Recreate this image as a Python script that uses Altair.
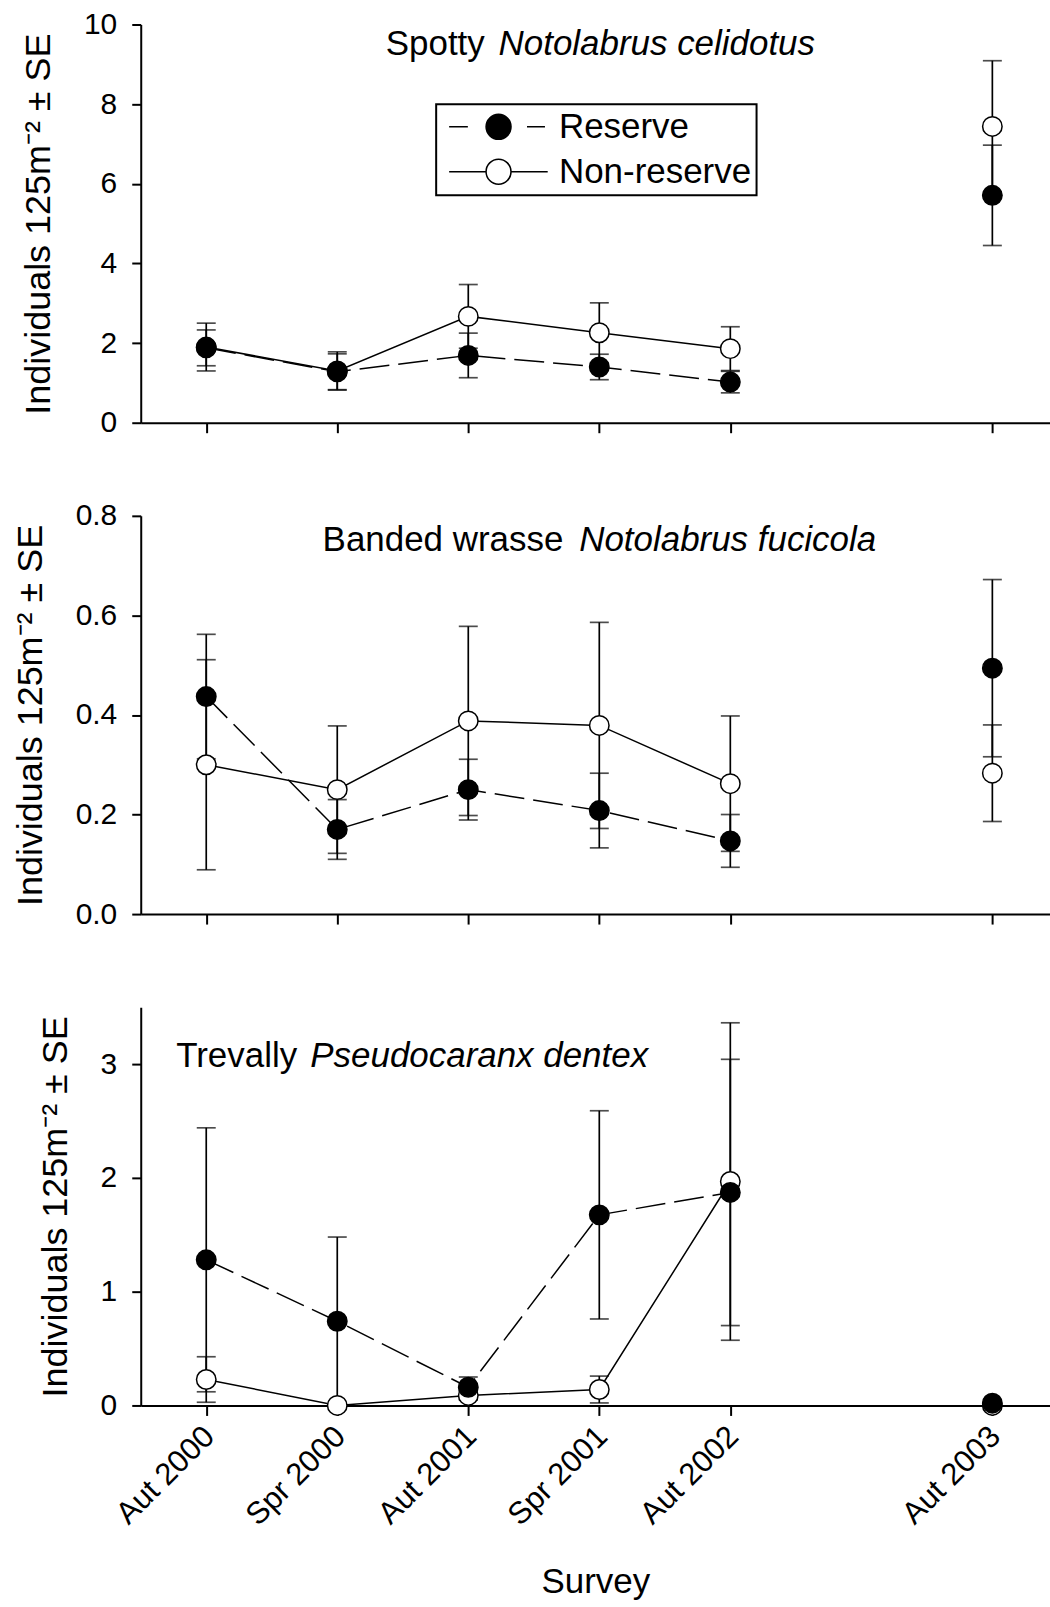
import altair as alt
import pandas as pd

# Survey occasions and their positions on the x axis (gap before Aut 2003)
surveys = ["Aut 2000", "Spr 2000", "Aut 2001", "Spr 2001", "Aut 2002", "Aut 2003"]
survey_pos = [0, 1, 2, 3, 4, 6]
series_names = ["Reserve", "Non-reserve"]

# Spotty Notolabrus celidotus
spotty_res_mean = [1.88, 1.28, 1.69, 1.40, 1.02, 5.71]
spotty_res_se = [0.45, 0.45, 0.56, 0.32, 0.27, 1.26]
spotty_non_mean = [1.90, 1.30, 2.67, 2.26, 1.86, 7.44]
spotty_non_se = [0.60, 0.48, 0.80, 0.75, 0.55, 1.65]

# Banded wrasse Notolabrus fucicola
banded_res_mean = [0.437, 0.170, 0.250, 0.208, 0.147, 0.494]
banded_res_se = [0.125, 0.060, 0.061, 0.075, 0.053, 0.178]
banded_non_mean = [0.300, 0.250, 0.388, 0.379, 0.262, 0.283]
banded_non_se = [0.211, 0.128, 0.190, 0.207, 0.136, 0.097]

# Trevally Pseudocaranx dentex
trev_res_mean = [1.28, 0.74, 0.16, 1.675, 1.872, 0.02]
trev_res_se = [1.16, 0.74, 0.09, 0.915, 1.17, 0.0]
trev_non_mean = [0.228, 0.0, 0.088, 0.140, 1.968, 0.0]
trev_non_se = [0.20, 0.0, 0.04, 0.118, 1.395, 0.0]

y_title = "Individuals 125m\u207b\u00b2 \u00b1 SE"
FONT = "Liberation Sans"
DASH = [30, 9]

# legend symbols: circle with a dashed / solid line through it
CIRCLE = "M-1,0A1,1,0,1,1,1,0A1,1,0,1,1,-1,0Z"
PATH_RES = "M-3.96,0L-2.46,0M2.28,0L3.72,0" + CIRCLE
PATH_NON = "M-3.96,0L-1,0M1,0L3.94,0" + CIRCLE


def frame(res_mean, res_se, non_mean, non_se):
    rows = []
    for name, means, ses in [("Non-reserve", non_mean, non_se),
                             ("Reserve", res_mean, res_se)]:
        for pos, lab, m, s in zip(survey_pos, surveys, means, ses):
            rows.append({"pos": pos, "survey": lab, "series": name, "mean": m,
                         "lo": m - s, "hi": m + s})
    return pd.DataFrame(rows)


label_expr = ("['Aut 2000','Spr 2000','Aut 2001','Spr 2001','Aut 2002','','Aut 2003']"
              "[datum.value]")


def panel(df, y_domain, y_ticks, y_fmt, normal, italic, title_xy, italic_x,
          show_x_labels=False, show_legend=False):
    x_axis = alt.Axis(values=survey_pos, labelExpr=label_expr, labels=show_x_labels,
                      title="Survey" if show_x_labels else None, grid=False,
                      tickSize=10, labelAngle=-45, labelAlign="right",
                      labelBaseline="middle", labelPadding=16, labelOffset=3,
                      labelFontSize=31, titleFontSize=35, titlePadding=34)
    y_axis = alt.Axis(values=y_ticks, format=y_fmt, title=y_title, grid=False,
                      tickSize=9, labelPadding=15, titlePadding=26)
    x_enc = alt.X("pos:Q", scale=alt.Scale(domain=[-0.5, 6.44], nice=False, zero=False),
                  axis=x_axis)
    y_scale = alt.Scale(domain=y_domain, nice=False, zero=True)
    y_mean = alt.Y("mean:Q", scale=y_scale, axis=y_axis)

    base = alt.Chart(df)
    res = base.transform_filter("datum.series == 'Reserve'")
    non = base.transform_filter("datum.series == 'Non-reserve'")

    bars = base.mark_rule(color="black", strokeWidth=1.7).encode(
        x=x_enc, y=alt.Y("lo:Q", scale=y_scale, axis=y_axis), y2="hi:Q")
    caps_hi = base.mark_tick(color="black", orient="horizontal", size=19,
                             thickness=1.7).encode(
        x=x_enc, y=alt.Y("hi:Q", scale=y_scale, axis=y_axis))
    caps_lo = base.mark_tick(color="black", orient="horizontal", size=19,
                             thickness=1.7).encode(
        x=x_enc, y=alt.Y("lo:Q", scale=y_scale, axis=y_axis))

    # connecting lines stop at Aut 2002
    line_non = non.transform_filter("datum.pos <= 4").mark_line(
        color="black", strokeWidth=1.5).encode(x=x_enc, y=y_mean)
    line_res = res.transform_filter("datum.pos <= 4").mark_line(
        color="black", strokeWidth=1.5, strokeDash=DASH).encode(x=x_enc, y=y_mean)

    pt_non = non.mark_point(filled=True, size=380, fill="white", stroke="black",
                            strokeWidth=1.5, opacity=1).encode(x=x_enc, y=y_mean)
    pt_res = res.mark_point(filled=True, size=380, fill="black", stroke="black",
                            strokeWidth=1.5, opacity=1).encode(x=x_enc, y=y_mean)

    tx, ty = title_xy
    t_norm = alt.Chart(pd.DataFrame({"t": [normal]})).mark_text(
        align="left", baseline="alphabetic", font=FONT, fontSize=35, color="black").encode(
        text="t:N", x=alt.value(tx), y=alt.value(ty))
    t_ital = alt.Chart(pd.DataFrame({"t": [italic]})).mark_text(
        align="left", baseline="alphabetic", font=FONT, fontSize=35, fontStyle="italic",
        color="black").encode(text="t:N", x=alt.value(italic_x), y=alt.value(ty))

    layers = [bars, caps_hi, caps_lo, line_non, line_res, pt_non, pt_res, t_norm, t_ital]

    if show_legend:
        legend = alt.Legend(
            title=None, orient="none", legendX=296, legendY=80,
            symbolSize=625, symbolOffset=40, symbolStrokeWidth=1.5,
            symbolStrokeColor="black",
            labelFont=FONT, labelFontSize=35, labelColor="black", labelLimit=400,
            labelOffset=43, rowPadding=9, padding=5,
            strokeColor="black", fillColor="white")
        key = base.transform_filter("false").mark_point(
            filled=True, opacity=1, strokeWidth=1.5).encode(
            x=x_enc, y=y_mean,
            shape=alt.Shape("series:N", scale=alt.Scale(domain=series_names,
                                                        range=[PATH_RES, PATH_NON]),
                            legend=legend),
            fill=alt.Fill("series:N", scale=alt.Scale(domain=series_names,
                                                      range=["black", "white"]),
                          legend=legend),
            stroke=alt.Stroke("series:N", scale=alt.Scale(domain=series_names,
                                                          range=["black", "black"]),
                              legend=legend))
        layers.append(key)

    return alt.layer(*layers).properties(width=911, height=399)


p1 = panel(frame(spotty_res_mean, spotty_res_se, spotty_non_mean, spotty_non_se),
           [0, 10], [0, 2, 4, 6, 8, 10], "d", "Spotty", "Notolabrus celidotus",
           (245.5, 30.6), 358.5, show_legend=True)
p2 = panel(frame(banded_res_mean, banded_res_se, banded_non_mean, banded_non_se),
           [0, 0.8], [0, 0.2, 0.4, 0.6, 0.8], ".1f", "Banded wrasse", "Notolabrus fucicola",
           (182.2, 35.0), 439.3)
p3 = panel(frame(trev_res_mean, trev_res_se, trev_non_mean, trev_non_se),
           [0, 3.5], [0, 1, 2, 3], "d", "Trevally", "Pseudocaranx dentex",
           (35.5, 59.7), 169.9, show_x_labels=True)

chart = alt.vconcat(p1, p2, p3, spacing=93.3, bounds="flush").properties(
    padding={"left": 12, "top": 8, "right": 0, "bottom": 0}
).configure_view(stroke=None).configure_axis(
    domainColor="black", domainWidth=2, tickColor="black", tickWidth=2,
    labelFont=FONT, labelFontSize=30, labelColor="black",
    titleFont=FONT, titleFontSize=36, titleColor="black", titleFontWeight="normal"
).configure_legend(strokeWidth=2)

chart.save("out.html", embed_options={"renderer": "svg", "actions": False})
